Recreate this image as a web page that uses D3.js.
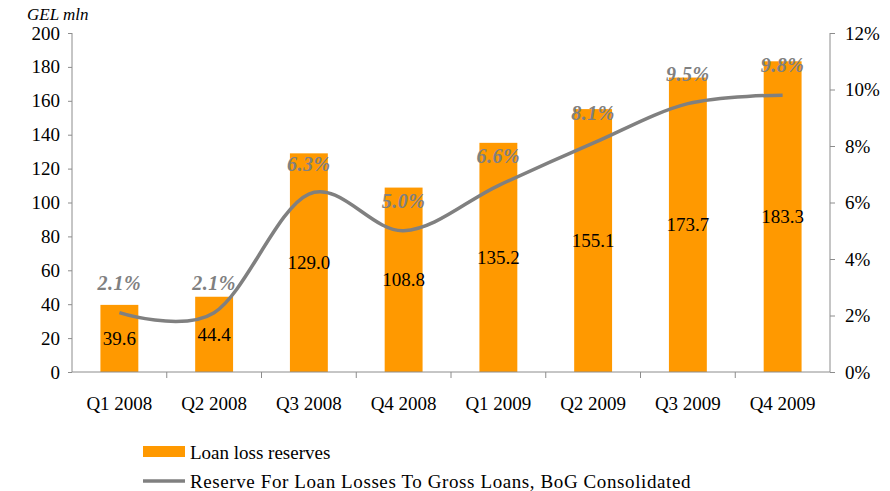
<!DOCTYPE html>
<html>
<head>
<meta charset="utf-8">
<script src="https://cdn.jsdelivr.net/npm/d3@7"></script>
<style>
  body { margin: 0; background: #fff; }
  text { font-family: "Liberation Serif", "Times New Roman", serif; }
</style>
</head>
<body>
<script>
// chart data
var quarters = ["Q1 2008", "Q2 2008", "Q3 2008", "Q4 2008", "Q1 2009", "Q2 2009", "Q3 2009", "Q4 2009"];
var reserves = [39.6, 44.4, 129.0, 108.8, 135.2, 155.1, 173.7, 183.3];
var ratio = [2.1, 2.1, 6.3, 5.0, 6.6, 8.1, 9.5, 9.8];
var leftTicks = [0, 20, 40, 60, 80, 100, 120, 140, 160, 180, 200];
var rightTicks = [0, 2, 4, 6, 8, 10, 12];

var W = 890, H = 491;
var margin = {top: 33, right: 60, bottom: 119, left: 72};
var width = W - margin.left - margin.right,
    height = H - margin.top - margin.bottom;

var orange = "#FF9900", grey = "#808080", axisCol = "#8c8c8c";
var serif = "'Liberation Serif', 'Times New Roman', serif";

var svg = d3.select("body").append("svg")
    .attr("width", W)
    .attr("height", H);

var g = svg.append("g")
    .attr("transform", "translate(" + margin.left + "," + margin.top + ")");

var x = d3.scaleBand().domain(quarters).range([0, width]).paddingInner(0.6).paddingOuter(0.3);
var xb = d3.scaleBand().domain(quarters).range([0, width]);
var y = d3.scaleLinear().domain([0, 200]).range([height, 0]);
var y2 = d3.scaleLinear().domain([0, 12]).range([height, 0]);

// bars
g.selectAll(".bar")
  .data(reserves)
  .enter().append("rect")
    .attr("class", "bar")
    .attr("x", function(d, i) { return x(quarters[i]); })
    .attr("width", x.bandwidth())
    .attr("y", function(d) { return y(d); })
    .attr("height", function(d) { return height - y(d); })
    .attr("fill", orange);

// axes
var leftAxis = g.append("g")
    .attr("font-family", serif)
    .call(d3.axisLeft(y).tickValues(leftTicks).tickSize(4).tickPadding(8));
var rightAxis = g.append("g")
    .attr("transform", "translate(" + width + ",0)")
    .call(d3.axisRight(y2).tickValues(rightTicks).tickSize(5).tickPadding(10)
      .tickFormat(function(d) { return d + "%"; }));

var bottom = g.append("g").attr("transform", "translate(0," + height + ")");
bottom.append("line").attr("x1", 0).attr("x2", width).attr("stroke", axisCol);
bottom.selectAll(".tk")
  .data(quarters.slice(1))
  .enter().append("line")
    .attr("x1", function(d) { return xb(d); })
    .attr("x2", function(d) { return xb(d); })
    .attr("y1", 0).attr("y2", 6)
    .attr("stroke", axisCol);
bottom.selectAll(".xl")
  .data(quarters)
  .enter().append("text")
    .attr("x", function(d) { return xb(d) + xb.bandwidth() / 2; })
    .attr("y", 38)
    .attr("text-anchor", "middle")
    .style("font-size", "19px")
    .text(function(d) { return d; });

[leftAxis, rightAxis].forEach(function(a) {
  a.attr("font-family", serif);
  a.select(".domain").attr("stroke", axisCol);
  a.selectAll(".tick line").attr("stroke", axisCol);
  a.selectAll(".tick text").style("font-size", "19px").attr("fill", "#000");
});
leftAxis.select(".domain").attr("d", "M0," + height + "V0");
rightAxis.select(".domain").attr("d", "M0," + height + "V0");

// bar value labels
g.selectAll(".vl")
  .data(reserves)
  .enter().append("text")
    .attr("x", function(d, i) { return x(quarters[i]) + x.bandwidth() / 2; })
    .attr("y", function(d) { return (y(d) + height) / 2; })
    .attr("dy", "0.35em")
    .attr("text-anchor", "middle")
    .style("font-size", "19px")
    .text(function(d) { return d.toFixed(1); });

// ratio line
var line = d3.line()
    .x(function(d, i) { return x(quarters[i]) + x.bandwidth() / 2; })
    .y(function(d) { return y2(d); })
    .curve(d3.curveCardinal.tension(0));

g.append("path")
    .datum(ratio)
    .attr("d", line)
    .attr("fill", "none")
    .attr("stroke", grey)
    .attr("stroke-width", 3.5);

g.selectAll(".pl")
  .data(ratio)
  .enter().append("text")
    .attr("x", function(d, i) { return x(quarters[i]) + x.bandwidth() / 2; })
    .attr("y", function(d) { return y2(d) - 30; })
    .attr("dy", "0.35em")
    .attr("text-anchor", "middle")
    .style("font-size", "20px")
    .style("font-style", "italic")
    .style("font-weight", "bold")
    .style("letter-spacing", "0.5px")
    .attr("fill", grey)
    .text(function(d) { return d.toFixed(1) + "%"; });

// axis title
svg.append("text")
    .attr("x", 27).attr("y", 20)
    .style("font-size", "17px")
    .style("font-style", "italic")
    .text("GEL mln");

// legend
var legend = svg.append("g").attr("transform", "translate(143,452)");
legend.append("rect").attr("x", 0).attr("y", -6).attr("width", 42).attr("height", 11).attr("fill", orange);
legend.append("text").attr("x", 47).attr("y", 0).attr("dy", "0.35em").style("font-size", "19px")
    .text("Loan loss reserves");
legend.append("line").attr("x1", 0).attr("x2", 42).attr("y1", 29).attr("y2", 29)
    .attr("stroke", grey).attr("stroke-width", 3.5);
legend.append("text").attr("x", 47).attr("y", 29).attr("dy", "0.35em").style("font-size", "19px")
    .style("letter-spacing", "0.6px")
    .text("Reserve For Loan Losses To Gross Loans, BoG Consolidated");
</script>
</body>
</html>
